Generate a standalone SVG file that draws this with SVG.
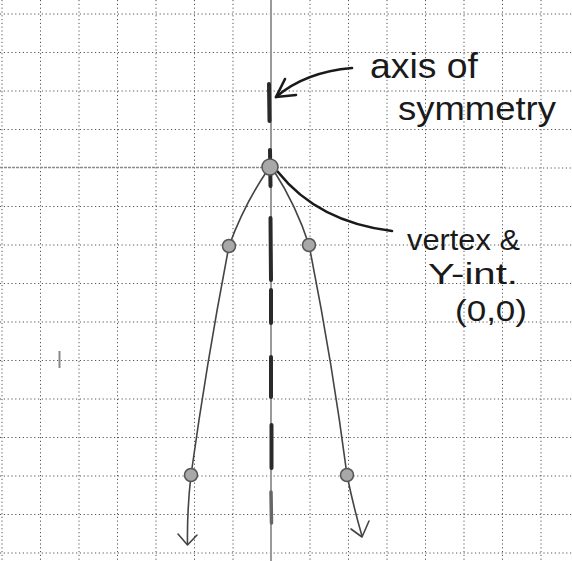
<svg xmlns="http://www.w3.org/2000/svg" width="572" height="561" viewBox="0 0 572 561">
<style>
.grid line{stroke:#555;stroke-width:1;stroke-dasharray:1.2 2.6}
.curve{fill:none;stroke:#444;stroke-width:1.6;stroke-linecap:round;stroke-linejoin:round}
.ink{fill:none;stroke:#1a1a1a;stroke-width:2.6;stroke-linecap:round;stroke-linejoin:round}
.pt{fill:#a8a8a8;stroke:#555;stroke-width:1.5}
.hand{font-family:"Liberation Sans","DejaVu Sans",sans-serif;fill:#1a1a1a}
.axdash{stroke:#2a2a2a;stroke-width:4;stroke-linecap:round}
</style>
<rect width="572" height="561" fill="#fff"/>
<g class="grid" id="grid">
<line x1="2" y1="0" x2="2" y2="561"/><line x1="40.5" y1="0" x2="40.5" y2="561"/><line x1="79" y1="0" x2="79" y2="561"/><line x1="117.5" y1="0" x2="117.5" y2="561"/><line x1="156" y1="0" x2="156" y2="561"/><line x1="194.5" y1="0" x2="194.5" y2="561"/><line x1="233" y1="0" x2="233" y2="561"/><line x1="310" y1="0" x2="310" y2="561"/><line x1="348.5" y1="0" x2="348.5" y2="561"/><line x1="387" y1="0" x2="387" y2="561"/><line x1="425.5" y1="0" x2="425.5" y2="561"/><line x1="464" y1="0" x2="464" y2="561"/><line x1="502.5" y1="0" x2="502.5" y2="561"/><line x1="541" y1="0" x2="541" y2="561"/>
<line x1="0" y1="14" x2="572" y2="14"/><line x1="0" y1="52.5" x2="572" y2="52.5"/><line x1="0" y1="91" x2="572" y2="91"/><line x1="0" y1="129.5" x2="572" y2="129.5"/><line x1="505" y1="168" x2="572" y2="168"/><line x1="0" y1="206.5" x2="572" y2="206.5"/><line x1="0" y1="245" x2="572" y2="245"/><line x1="0" y1="283.5" x2="572" y2="283.5"/><line x1="0" y1="322" x2="572" y2="322"/><line x1="0" y1="360.5" x2="572" y2="360.5"/><line x1="0" y1="399" x2="572" y2="399"/><line x1="0" y1="437.5" x2="572" y2="437.5"/><line x1="0" y1="476" x2="572" y2="476"/><line x1="0" y1="514.5" x2="572" y2="514.5"/><line x1="0" y1="553" x2="572" y2="553"/>
</g>
<g id="x-axis"><line x1="0" y1="167.5" x2="505" y2="167.5" stroke="#8a8a8a" stroke-width="1.6" stroke-dasharray="3 1"/></g>
<g id="axis-of-symmetry">
<line x1="271" y1="0" x2="271" y2="561" stroke="#9a9a9a" stroke-width="2"/>
<line class="axdash" x1="269" y1="84" x2="269.5" y2="121"/>
<line class="axdash" x1="270" y1="150" x2="270.5" y2="186"/>
<line class="axdash" x1="270.5" y1="218" x2="271" y2="280"/>
<line class="axdash" x1="271" y1="290" x2="271" y2="323"/>
<line class="axdash" x1="271" y1="357" x2="271" y2="397"/>
<line class="axdash" x1="271.5" y1="425" x2="271.5" y2="468"/>
<line x1="271" y1="492" x2="271.5" y2="523" stroke="#666" stroke-width="3.5" stroke-linecap="round"/>
</g>
<g id="mark"><line x1="59.5" y1="351" x2="59.5" y2="368" stroke="#888" stroke-width="2"/></g>
<g id="connectors">
<path class="curve" d="M 267 171 Q 244 205 229 246 Q 207 360 191 475 Q 187 510 187.5 544"/>
<polyline class="curve" points="178,534 187.5,545 197,535"/>
<path class="curve" d="M 274 171 Q 296 205 309 245 Q 332 360 347 475 Q 353 505 362 536"/>
<polyline class="curve" points="351,529 362,537 369,521"/>
<path class="ink" d="M 352 68 Q 305 72 276 97"/>
<polyline class="ink" points="285,79 276,97 296,95"/>
<path class="ink" d="M 278 172 Q 318 222 392 231"/>
</g>
<g id="vertex"><circle class="pt" cx="270" cy="167" r="8" fill="#8a8a8a"/></g>
<g id="point-left-1"><circle class="pt" cx="229" cy="246" r="6.5"/></g>
<g id="point-right-1"><circle class="pt" cx="309" cy="245" r="6.5"/></g>
<g id="point-left-2"><circle class="pt" cx="191" cy="475" r="6.5"/></g>
<g id="point-right-2"><circle class="pt" cx="347" cy="475" r="6.5"/></g>
<g id="label-axis">
<text class="hand" x="370" y="78" font-size="35" textLength="108" lengthAdjust="spacingAndGlyphs">axis of</text>
<text class="hand" x="398" y="120" font-size="34" textLength="158" lengthAdjust="spacingAndGlyphs">symmetry</text>
</g>
<g id="label-vertex">
<text class="hand" x="407" y="250" font-size="30" textLength="113" lengthAdjust="spacingAndGlyphs">vertex &amp;</text>
<text class="hand" x="428" y="284" font-size="29" textLength="90" lengthAdjust="spacingAndGlyphs">Y-int.</text>
<text class="hand" x="455" y="321" font-size="30" textLength="72" lengthAdjust="spacingAndGlyphs">(0,0)</text>
</g>
</svg>
